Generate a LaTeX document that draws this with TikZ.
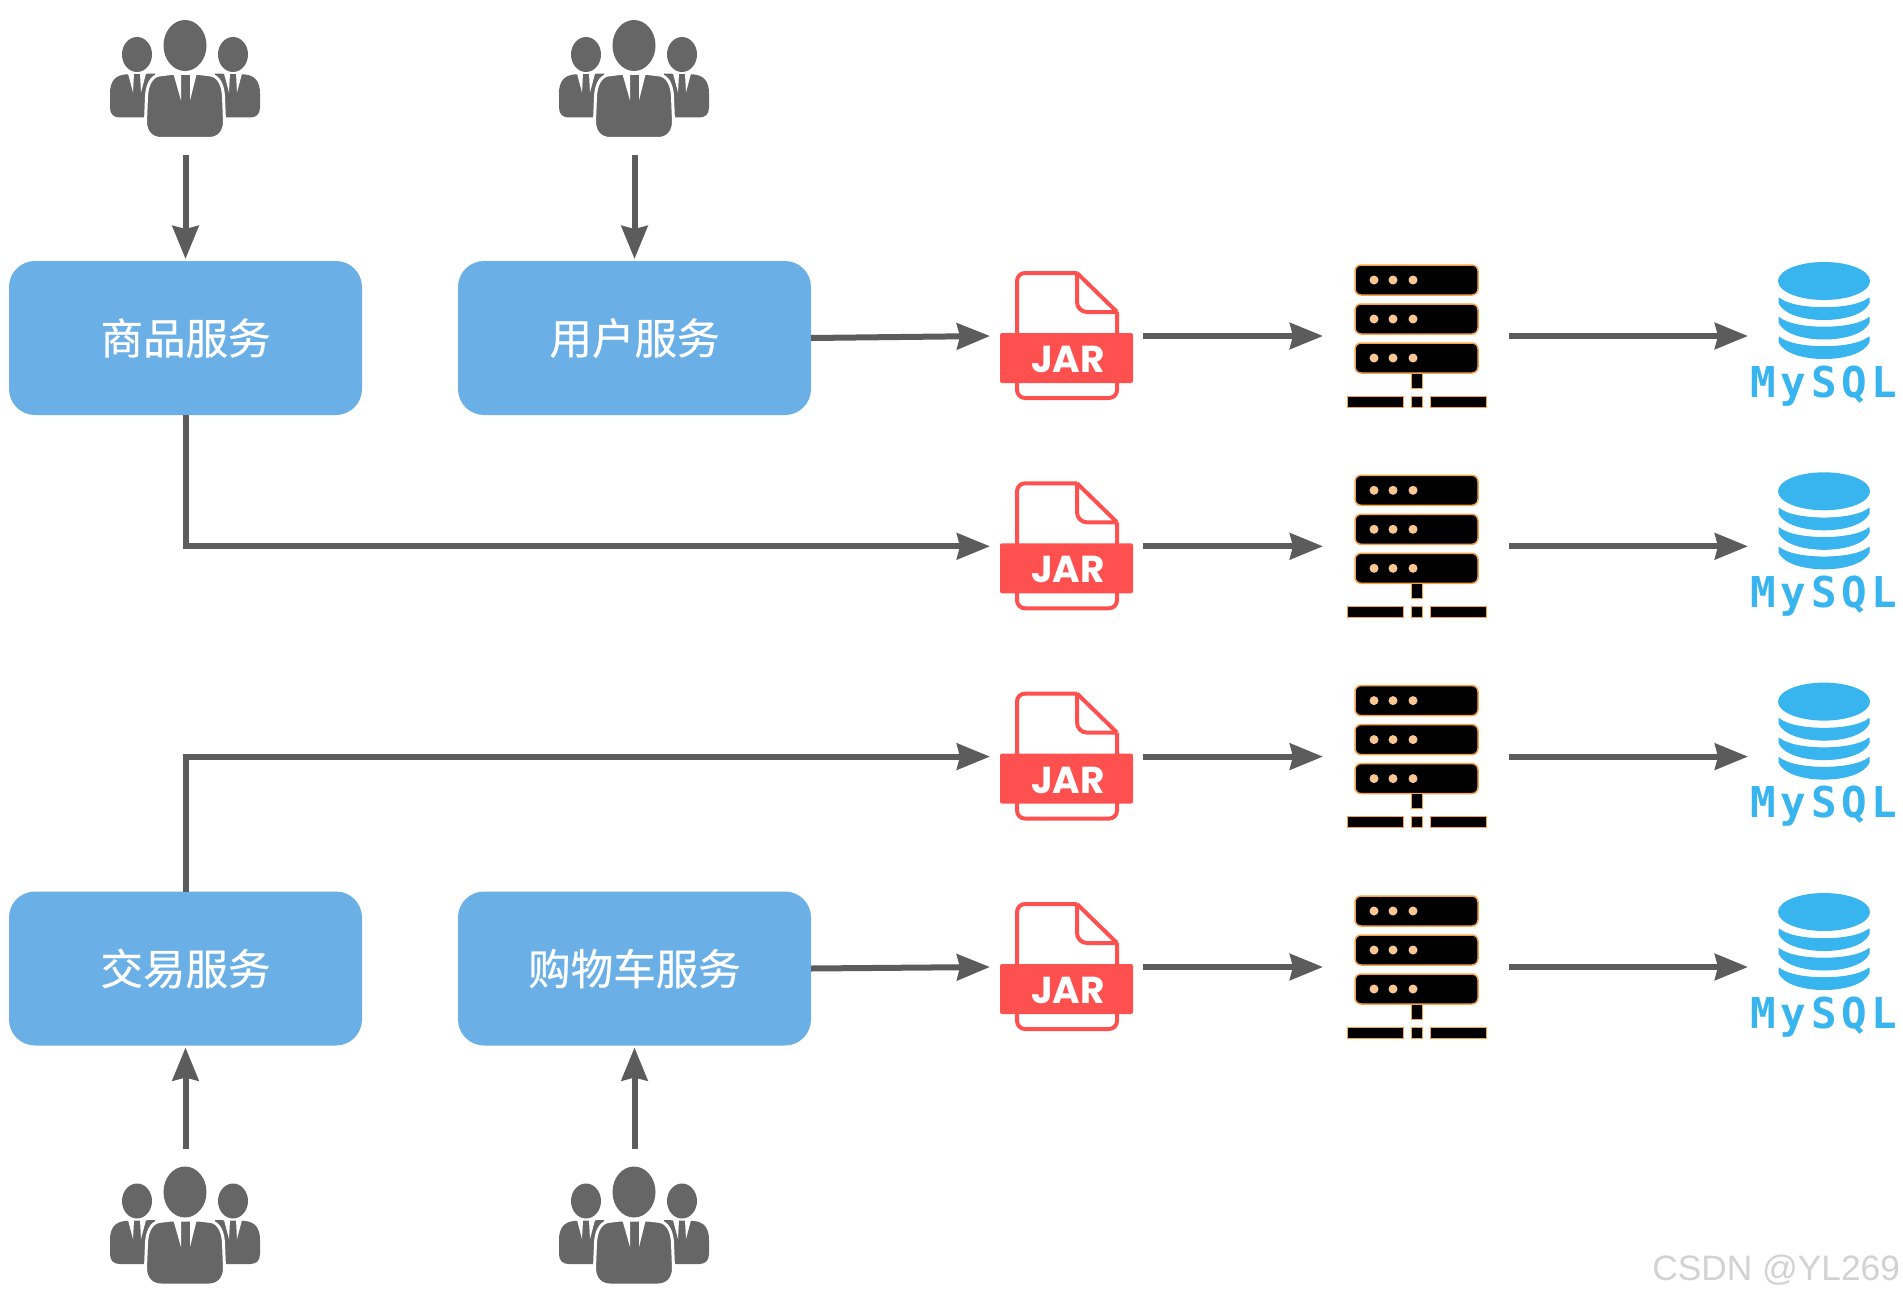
\documentclass[tikz,border=0pt]{standalone}
\usepackage{fontspec}
\setmainfont{Liberation Sans}
\newfontfamily\cjkfont[FakeBold=0.5]{Noto Sans CJK SC}
\newfontfamily\jarfont{Poppins}
\newfontfamily\sqlfont[LetterSpace=11]{DejaVu Sans Mono}
\usetikzlibrary{arrows.meta}
\definecolor{boxblue}{HTML}{6AB0E6}
\definecolor{linegrey}{HTML}{5C5C5C}
\definecolor{persongrey}{HTML}{666666}
\definecolor{jarred}{HTML}{FF5050}
\definecolor{sqlblue}{HTML}{38B5EF}
\definecolor{rackorange}{HTML}{F7A24A}
\definecolor{markgrey}{HTML}{D2D2D2}
\tikzset{
  x=1pt,y=-1pt,
  svc/.style={fill=boxblue,draw=none,rounded corners=26pt,minimum width=353pt,minimum height=154pt,inner sep=0pt,outer sep=0pt,text=white,font=\cjkfont\fontsize{42.5}{42.5}\selectfont},
  slot/.style={draw=none,fill=none,inner sep=0pt,outer sep=0pt},
  flow/.style={draw=linegrey,line width=6pt,-{Stealth[length=33pt,width=26pt,inset=3pt]}},
  personicon/.pic={
    \fill[persongrey] (0,44) circle[x radius=21.5pt,y radius=25.5pt];
    \foreach \s in {-1,1}{
      \fill[persongrey] (\s*48,53) circle[x radius=15pt,y radius=17.5pt];
      \fill[persongrey] (\s*30,72) -- (\s*60,73) .. controls (\s*70,74) and (\s*75,80) .. (\s*75,92) -- (\s*75,106) .. controls (\s*75,113) and (\s*71,116) .. (\s*65,116) -- (\s*30,116) -- cycle;
      \fill[white] (\s*57,72) -- (\s*51,72) -- (\s*52,91) -- cycle;
      \fill[white] (\s*45,72) -- (\s*39,72) -- (\s*44,91) -- cycle;
    }
    \filldraw[persongrey,draw=white,line width=3pt] (-14,72) -- (-26,73.5) .. controls (-34,75) and (-38,84) .. (-38.5,95)
      -- (-39.5,120) .. controls (-39.5,131) and (-33,137) .. (-24,137) -- (24,137)
      .. controls (33,137) and (39.5,131) .. (39.5,120) -- (38.5,95)
      .. controls (38,84) and (34,75) .. (26,73.5) -- (14,72) -- cycle;
    \fill[white] (-12,71) -- (-4,71) -- (-4,99) -- cycle;
    \fill[white] (12,71) -- (5,71) -- (5,99) -- cycle;
  },
  jaricon/.pic={
    \draw[jarred,line width=4pt,rounded corners=8pt,line join=round] (10,-63) -- (-50,-63) -- (-50,62) -- (50,62) -- (50,-24);
    \draw[jarred,line width=4pt,line join=round] (10,-63) -- (50,-24);
    \draw[jarred,line width=4pt,rounded corners=10pt] (10,-63) -- (10,-24) -- (50,-24);
    \fill[jarred,rounded corners=2pt] (-67,-3) rectangle (66,47);
    \node[slot,text=white,font=\jarfont\bfseries\fontsize{37.5}{37.5}\selectfont,anchor=base] at (1,36.5) {JAR};
  },
  servericon/.pic={
    \foreach \t in {-71,-32,7}{
      \filldraw[fill=black,draw=rackorange,line width=1.5pt,rounded corners=6pt] (-56,\t) rectangle (67,\t+30);
      \foreach \d in {-37,-18,2}{\fill[rackorange!60!white] (\d,\t+15) circle[radius=4.5pt];}
    }
    \filldraw[fill=black,draw=rackorange,line width=1pt] (0,37) rectangle (11,52);
    \filldraw[fill=black,draw=rackorange,line width=1pt] (-64,60) rectangle (-8,71);
    \filldraw[fill=black,draw=rackorange,line width=1pt] (0,60) rectangle (11,71);
    \filldraw[fill=black,draw=rackorange,line width=1pt] (19,60) rectangle (75,71);
  },
  sqlicon/.pic={
    \fill[sqlblue] (0,-55) circle[x radius=46pt,y radius=19pt];
    \foreach \o in {0,19.5,39}{
      \filldraw[sqlblue,line join=round,line width=1pt,yshift=-\o pt] (-45,-38) .. controls (-30,-25) and (30,-25) .. (45,-38)
        -- (45,-33) .. controls (35,-11) and (-35,-11) .. (-45,-33) -- cycle;
    }
    \node[slot,text=sqlblue,font=\sqlfont\bfseries\fontsize{42.5}{42.5}\selectfont,anchor=base] at (0,61) {MySQL};
  },
}
\begin{document}
\begin{tikzpicture}
\useasboundingbox (0,0) rectangle (1903,1300);
\fill[white] (0,0) rectangle (1903,1300);
% services
\node[svc] (b1) at (185.5,338) {商品服务};
\node[svc] (b2) at (634.5,338) {用户服务};
\node[svc] (b3) at (185.5,968.5) {交易服务};
\node[svc] (b4) at (634.5,968.5) {购物车服务};
% people
\foreach \n/\x/\y/\h in {p1/185.5/85/140,p2/634.5/85/140,p3/185.5/1217/136,p4/634.5/1217/136}{
  \node[slot,minimum width=150pt,minimum height=\h pt] (\n) at (\x,\y) {};
}
\pic at (185,1.5) {personicon};
\pic at (634,1.5) {personicon};
\pic at (185,1148) {personicon};
\pic at (634,1148) {personicon};
% rows
\foreach \r/\y in {1/336,2/546.3,3/756.6,4/967}{
  \node[slot,minimum width=153pt,minimum height=125pt] (j\r) at (1066.5,\y) {};
  \node[slot,minimum width=186pt,minimum height=142pt] (s\r) at (1416,\y) {};
  \node[slot,minimum width=150pt,minimum height=140pt,anchor=west] (m\r) at (1748,\y) {};
  \pic at (1067,\y) {jaricon};
  \pic at (1411,\y) {servericon};
  \pic at (1824,\y) {sqlicon};
  \draw[flow] (j\r.east) -- (s\r.west);
  \draw[flow] (s\r.east) -- (m\r.west);
}
% connectors
\draw[flow,shorten >=2pt] (p1.south) -- (b1.north);
\draw[flow,shorten >=2pt] (p2.south) -- (b2.north);
\draw[flow,shorten >=2pt] (p3.north) -- (b3.south);
\draw[flow,shorten >=2pt] (p4.north) -- (b4.south);
\draw[flow] (b2.east) -- (j1.west);
\draw[flow] (b1.south) |- (j2.west);
\draw[flow] (b3.north) |- (j3.west);
\draw[flow] (b4.east) -- (j4.west);
% watermark
\node[slot,text=markgrey,font=\fontsize{35.3}{35.3}\selectfont,anchor=base east] (wm) at (1900,1280) {CSDN @YL269};
\end{tikzpicture}
\end{document}
